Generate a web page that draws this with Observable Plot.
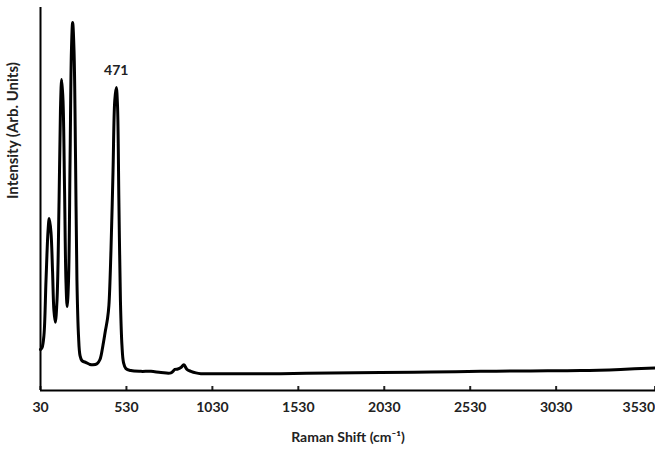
<!DOCTYPE html>
<html>
<head>
<meta charset="utf-8">
<script src="https://cdn.jsdelivr.net/npm/d3@7"></script>
<script src="https://cdn.jsdelivr.net/npm/@observablehq/plot@0.6"></script>
<style>
  html, body { margin: 0; padding: 0; background: #fff; }
  #chart svg { display: block; }
</style>
</head>
<body>
<div id="chart"></div>
<script>
// Raman shift (cm^-1) and intensity (arb. units, 0–100)
const shift = [30, 39, 50, 62, 74, 81, 91, 100, 108, 116, 126, 138, 146, 153, 161, 170, 178, 185, 193, 202, 210, 217, 225, 234, 242, 251, 260, 271, 295, 318, 335, 359, 376, 393, 408, 420, 428, 440, 452, 462, 471, 478, 486, 495, 504, 513, 527, 556, 614, 673, 731, 789, 812, 829, 847, 864, 882, 905, 934, 963, 1138, 1428, 1719, 2009, 2300, 2591, 2882, 3172, 3405, 3608];
const intensity = [10.7, 11.2, 14.4, 28.7, 41.8, 44.9, 41.3, 31.3, 20.9, 17.8, 23.5, 49.6, 73.1, 81.2, 75.7, 52.2, 28.7, 21.9, 28.7, 60.1, 88.8, 96.1, 88.8, 60.1, 28.7, 14.4, 9.1, 7.8, 7.3, 6.8, 6.7, 7.0, 8.1, 11.7, 15.7, 18.8, 22.2, 36.6, 57.4, 75.7, 79.1, 74.4, 49.6, 23.5, 11.7, 7.3, 5.7, 5.2, 5.0, 5.0, 4.7, 4.6, 5.5, 5.6, 6.0, 6.7, 5.5, 5.0, 4.6, 4.4, 4.4, 4.4, 4.6, 4.7, 4.8, 5.0, 5.1, 5.2, 5.5, 5.9];
const xTicks = [30, 530, 1030, 1530, 2030, 2530, 3030];
const xTicksEdge = [3530];
const peakLabels = [{shift: 471, intensity: 79.1, label: "471"}];
const xTitle = "Raman Shift (cm\u207B\u00B9)";
const yTitle = "Intensity (Arb. Units)";

const data = shift.map((s, i) => ({shift: s, intensity: intensity[i]}));

const chart = Plot.plot({
  width: 655,
  height: 454,
  marginTop: 7,
  marginBottom: 64,
  marginLeft: 40,
  marginRight: 0,
  style: {fontFamily: "Lato, 'Open Sans', sans-serif", fontWeight: "bold", fontSize: "14px", color: "#222", background: "#fff"},
  x: {domain: [30, 3608], axis: null},
  y: {domain: [0, 100], axis: null},
  marks: [
    Plot.axisX({ticks: xTicks, tickSize: -4, tickPadding: 16, tickFormat: d => String(d), strokeWidth: 2, label: null, fill: "#222", fontSize: 14}),
    Plot.axisX({ticks: xTicksEdge, tickSize: -4, tickPadding: 16, tickFormat: d => String(d), strokeWidth: 2, label: null, fill: "#222", fontSize: 14, textAnchor: "end", dx: 13}),
    Plot.line(data, {x: "shift", y: "intensity", stroke: "#000", strokeWidth: 3, curve: "catmull-rom"}),
    Plot.ruleY([0], {stroke: "#000", strokeWidth: 2}),
    Plot.ruleX([30], {stroke: "#000", strokeWidth: 2}),
    Plot.text(peakLabels, {x: "shift", y: "intensity", text: "label", dy: -17, fontSize: 14, fontWeight: "bold", fill: "#222"}),
    Plot.text([xTitle], {frameAnchor: "bottom", dy: 51, fontSize: 14, fontWeight: "bold", fill: "#222"}),
    Plot.text([yTitle], {frameAnchor: "left", dx: -27, rotate: -90, fontSize: 15, fontWeight: "bold", fill: "#222"})
  ]
});
document.getElementById("chart").appendChild(chart);
</script>
</body>
</html>
